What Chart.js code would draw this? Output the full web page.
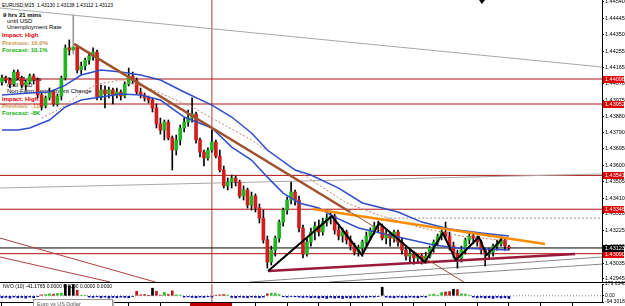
<!DOCTYPE html>
<html><head><meta charset="utf-8">
<script src="https://cdn.jsdelivr.net/npm/chart.js@4.4.1/dist/chart.umd.min.js"></script>
<style>
html,body{margin:0;padding:0;background:#fff;width:625px;height:306px;overflow:hidden;font-family:"Liberation Sans",Arial,sans-serif}
#main{position:absolute;left:0;top:0;width:625px;height:283px;z-index:2}
#sub{position:absolute;left:0;top:277px;width:625px;height:29px;z-index:3}
.t{position:absolute;font-size:6px;line-height:7px;white-space:nowrap;z-index:1}
.b{font-weight:bold}
.red{color:#e00000}.tan{color:#c8964e}.grn{color:#10b010}
#tri{position:absolute;left:479px;top:0;width:0;height:0;border-left:3px solid transparent;border-right:3px solid transparent;border-top:4px solid #000;z-index:5}
#tip{position:absolute;left:33px;top:299px;width:80px;height:9px;border:1px solid #999;background:#fff;z-index:6;font-size:5.5px;line-height:8px;color:#555;padding-left:3px;box-sizing:border-box;box-shadow:1px 1px 1px #bbb}
#tbox{position:absolute;left:190px;top:303px;width:42px;height:4px;background:#c00000;z-index:6}
</style></head><body>
<div class="t" style="left:2px;top:2px;font-size:5px">EURUSD,M15&nbsp; 1.43130 1.43138 1.43112 1.43123</div>
<div class="t b" style="left:3px;top:12px">9 hrs 21 mins</div>
<div class="t" style="left:7px;top:18px">until USD</div>
<div class="t" style="left:7px;top:24px">Unemployment Rate</div>
<div class="t b red" style="left:2px;top:32px">Impact: High</div>
<div class="t b tan" style="left:2px;top:40px">Previous: 10.0%</div>
<div class="t b grn" style="left:2px;top:47px">Forecast: 10.1%</div>
<div class="t b" style="left:3px;top:76px">9 hrs 21 mins</div>
<div class="t" style="left:7px;top:82px">until USD</div>
<div class="t" style="left:7px;top:88px">Non-Farm Employment Change</div>
<div class="t b red" style="left:2px;top:96px">Impact: High</div>
<div class="t b tan" style="left:2px;top:103px">Previous: -11K</div>
<div class="t b grn" style="left:2px;top:110px">Forecast: -8K</div>
<div class="t" style="left:3px;top:283px;font-size:5px;z-index:4">NVO (10) -41.1765 0.0000 0.0000 0.0000 0.0000</div>
<div id="tri"></div>
<div id="tip">Euro vs US Dollar</div>
<div id="tbox"></div>
<div id="main"><canvas id="c1" width="625" height="283"></canvas></div>
<div id="sub"><canvas id="c2" width="625" height="29"></canvas></div>
<script>
// ---- data (EURUSD M15) ----
const opens=[1.44079,1.44102,1.44090,1.44067,1.44136,1.44102,1.44061,1.44079,1.44113,1.44090,1.44004,1.43940,1.43987,1.44021,1.43952,1.43998,1.44102,1.44275,1.44263,1.44280,1.44148,1.44171,1.44205,1.44228,1.44251,1.43992,1.44033,1.44010,1.44033,1.44004,1.44021,1.43998,1.44067,1.44113,1.44090,1.44021,1.44004,1.43987,1.43975,1.43929,1.43837,1.43802,1.43848,1.43756,1.43687,1.43745,1.43814,1.43848,1.43871,1.43894,1.43745,1.43675,1.43641,1.43687,1.43733,1.43652,1.43572,1.43480,1.43503,1.43526,1.43503,1.43422,1.43457,1.43370,1.43422,1.43353,1.43295,1.43169,1.43042,1.43111,1.43180,1.43272,1.43341,1.43399,1.43445,1.43399,1.43238,1.43088,1.43157,1.43215,1.43249,1.43215,1.43272,1.43295,1.43307,1.43226,1.43192,1.43215,1.43169,1.43134,1.43099,1.43123,1.43157,1.43192,1.43226,1.43249,1.43249,1.43180,1.43203,1.43180,1.43215,1.43157,1.43111,1.43076,1.43088,1.43065,1.43076,1.43053,1.43076,1.43123,1.43157,1.43192,1.43215,1.43192,1.43134,1.43088,1.43065,1.43111,1.43169,1.43192,1.43180,1.43157,1.43111,1.43088,1.43099,1.43134,1.43146,1.43169,1.43130];
const highs=[1.44119,1.44113,1.44102,1.44148,1.44148,1.44113,1.44090,1.44125,1.44125,1.44102,1.44021,1.43998,1.44044,1.44033,1.44010,1.44113,1.44292,1.44321,1.44465,1.44292,1.44194,1.44217,1.44251,1.44275,1.44263,1.44061,1.44056,1.44050,1.44044,1.44044,1.44033,1.44079,1.44159,1.44136,1.44102,1.44044,1.44015,1.43998,1.43987,1.43952,1.43871,1.43860,1.43860,1.43768,1.43773,1.43831,1.43871,1.43917,1.43987,1.43906,1.43756,1.43687,1.43699,1.43802,1.43745,1.43687,1.43595,1.43526,1.43543,1.43537,1.43514,1.43480,1.43468,1.43445,1.43434,1.43376,1.43341,1.43192,1.43134,1.43192,1.43284,1.43353,1.43416,1.43503,1.43457,1.43422,1.43255,1.43180,1.43238,1.43272,1.43284,1.43295,1.43318,1.43330,1.43318,1.43249,1.43238,1.43226,1.43192,1.43151,1.43140,1.43169,1.43215,1.43238,1.43272,1.43278,1.43261,1.43226,1.43215,1.43226,1.43226,1.43180,1.43134,1.43111,1.43099,1.43088,1.43088,1.43099,1.43134,1.43169,1.43203,1.43226,1.43272,1.43215,1.43157,1.43111,1.43134,1.43180,1.43209,1.43203,1.43192,1.43169,1.43123,1.43123,1.43146,1.43169,1.43186,1.43180,1.43138];
const lows=[1.44061,1.44073,1.44044,1.44056,1.44090,1.44044,1.44033,1.44067,1.44067,1.43987,1.43917,1.43929,1.43975,1.43940,1.43940,1.43975,1.44090,1.44234,1.44240,1.44131,1.44125,1.44148,1.44182,1.44205,1.43975,1.43975,1.43929,1.43987,1.43952,1.43987,1.43975,1.43987,1.44056,1.44067,1.44010,1.43987,1.43969,1.43958,1.43906,1.43814,1.43779,1.43745,1.43745,1.43572,1.43658,1.43716,1.43791,1.43825,1.43848,1.43727,1.43647,1.43595,1.43629,1.43675,1.43641,1.43560,1.43468,1.43457,1.43468,1.43480,1.43411,1.43399,1.43353,1.43341,1.43330,1.43267,1.43151,1.43007,1.43025,1.43076,1.43157,1.43249,1.43318,1.43376,1.43370,1.43215,1.43065,1.43076,1.43134,1.43169,1.43192,1.43197,1.43249,1.43261,1.43203,1.43169,1.43157,1.43146,1.43111,1.43082,1.43076,1.43076,1.43134,1.43169,1.43203,1.43215,1.43169,1.43146,1.43134,1.43157,1.43134,1.43088,1.43053,1.43042,1.43030,1.43042,1.43030,1.43036,1.43065,1.43099,1.43134,1.43169,1.43169,1.43111,1.43065,1.43007,1.43042,1.43088,1.43146,1.43146,1.43134,1.43088,1.43019,1.43065,1.43076,1.43111,1.43134,1.43111,1.43112];
const closes=[1.44102,1.44090,1.44067,1.44136,1.44102,1.44061,1.44079,1.44113,1.44090,1.44004,1.43940,1.43987,1.44021,1.43952,1.43998,1.44102,1.44275,1.44263,1.44280,1.44148,1.44171,1.44205,1.44228,1.44251,1.43992,1.44033,1.44010,1.44033,1.44004,1.44021,1.43998,1.44067,1.44113,1.44090,1.44021,1.44004,1.43987,1.43975,1.43929,1.43837,1.43802,1.43848,1.43756,1.43687,1.43745,1.43814,1.43848,1.43871,1.43894,1.43745,1.43675,1.43641,1.43687,1.43733,1.43652,1.43572,1.43480,1.43503,1.43526,1.43503,1.43422,1.43457,1.43370,1.43422,1.43353,1.43295,1.43169,1.43042,1.43111,1.43180,1.43272,1.43341,1.43399,1.43445,1.43399,1.43238,1.43088,1.43157,1.43215,1.43249,1.43215,1.43272,1.43295,1.43307,1.43226,1.43192,1.43215,1.43169,1.43134,1.43099,1.43123,1.43157,1.43192,1.43226,1.43249,1.43251,1.43180,1.43203,1.43180,1.43215,1.43157,1.43111,1.43076,1.43088,1.43065,1.43076,1.43053,1.43076,1.43123,1.43157,1.43192,1.43215,1.43192,1.43134,1.43088,1.43065,1.43111,1.43169,1.43192,1.43180,1.43157,1.43111,1.43088,1.43099,1.43134,1.43146,1.43169,1.43134,1.43123];
// moving averages [barIndex, price]
const maUpper=[[0,1.44004],[7,1.44015],[12,1.44021],[16,1.44061],[20,1.44119],[25,1.44148],[30,1.44136],[35,1.44119],[40,1.44090],[46,1.44021],[53,1.43946],[58,1.43877],[63,1.43785],[67,1.43687],[74,1.43572],[78,1.43543],[85,1.43468],[91,1.43382],[100,1.43330],[106,1.43272],[113,1.43232],[121,1.43209],[128,1.43192]];
const maLower=[[0,1.43802],[4,1.43802],[7,1.43814],[12,1.43860],[16,1.43935],[20,1.43975],[25,1.43992],[30,1.44010],[35,1.44004],[40,1.43975],[46,1.43877],[53,1.43814],[58,1.43704],[63,1.43629],[67,1.43531],[71,1.43439],[75,1.43382],[80,1.43353],[84,1.43301],[90,1.43238],[100,1.43186],[109,1.43140],[115,1.43123],[128,1.43111]];
const maDotted=[[10,1.43871],[15,1.43929],[20,1.44015],[24,1.44067],[30,1.44090],[37,1.44044],[48,1.43935],[63,1.43745],[75,1.43560],[87,1.43382],[95,1.43313],[106,1.43238],[116,1.43192],[128,1.43163]];
// drawn objects [barIndex, price]
const brownTrend=[[18.2,1.44298],[87.9,1.43330]];
const brownRay=[[87.9,1.43330],[116.6,1.42927]];
const orangeTrend=[[78.5,1.43347],[137.1,1.43146]];
const zigzag=[[67.2,1.42990],[83.3,1.43307],[90.9,1.43082],[95.2,1.43267],[106.8,1.43042],[111.3,1.43209],[114.6,1.43053],[120.4,1.43186],[122.4,1.43082],[126.2,1.43174]];
const supportLine=[[67.2,1.42990],[144.7,1.43088]];
const grayTop=[[-0.5,1.44505],[151.5,1.44165]];
const grayMid=[[-0.5,1.43468],[151.5,1.43549]];
const grayLow1=[[62.6,1.42927],[151.5,1.43071]];
const grayLow2=[[82.8,1.42927],[151.5,1.43030]];
const redRay1=[[-0.5,1.43180],[38.7,1.42927]];
const redRay2=[[-0.5,1.43071],[27.3,1.42927]];
const dottedLevel=1.43295, dottedFrom=97;
const redLevels=[1.44096,1.43952,1.43541,1.43346,1.43090];
const bidLevel=1.43123;
const eventBar=53;
const priceTicks=[1.44540,1.44445,1.44350,1.44255,1.44165,1.44070,1.43975,1.43880,1.43790,1.43695,1.43600,1.43505,1.43410,1.43320,1.43225,1.43130,1.43035,1.42945];
const nvo=[-30,-25,-35,-20,-30,-25,-35,-20,-30,-10,15,20,30,25,35,40,179,150,170,85,10,8,-20,-25,-15,-30,-20,-35,-25,-30,-20,-25,-30,-10,70,15,20,5,115,70,10,50,20,75,15,10,-20,-15,-25,-30,-20,-25,-15,-20,10,15,20,10,-25,-30,-20,-25,-30,-20,-25,-30,-20,30,40,35,20,-15,-20,-10,-15,-20,-25,-20,-30,-25,-35,-30,-40,-25,-35,-30,-40,-30,-35,-25,-30,-20,-25,-15,-20,-10,130,-20,-25,-30,-20,-25,-30,-20,-25,-30,-15,-20,15,25,10,50,60,65,100,95,30,25,10,-20,-30,-25,-35,-30,-40,-25,-35,-30,-41.1765];
const nvoMax=179.6348, nvoMin=-94.3018;

// ---- layout constants ----
const SLOTS=152, X0=-0.5, X1=SLOTS-0.5;
const PMIN=1.42927, PMAX=1.44551;
const FONT='"Liberation Sans", Arial, sans-serif';
const UP='#22b422', DN='#d01e1e';

const pts=a=>a.map(([x,y])=>({x,y}));
const hline=(v,from)=>[{x:from===undefined?X0:from,y:v},{x:X1,y:v}];
const lineDs=(data,color,width,extra)=>Object.assign({type:'line',data,borderColor:color,borderWidth:width,pointRadius:0,tension:0,fill:false,order:1},extra||{});
const noPad=s=>{s.paddingLeft=0;s.paddingRight=0;s.paddingTop=0;s.paddingBottom=0;};

const idx=opens.map((_,i)=>i);
const datasets=[
  {type:'bar',data:idx.map(i=>({x:i,y:[lows[i],highs[i]]})),backgroundColor:idx.map(i=>i===18?'#9a9a9a':'#000'),barThickness:1,grouped:false,order:6},
  {type:'bar',data:idx.map(i=>({x:i,y:[opens[i],closes[i]]})),backgroundColor:idx.map(i=>closes[i]>=opens[i]?UP:DN),barThickness:3,minBarLength:1,grouped:false,order:5},
  lineDs(pts(grayTop),'#a8a8a8',1,{order:7}),
  lineDs(pts(grayMid),'#a8a8a8',1,{order:7}),
  lineDs(pts(grayLow1),'#8a8a8a',1,{order:7}),
  lineDs(pts(grayLow2),'#8a8a8a',1,{order:7}),
  lineDs(pts(redRay1),'#b04040',1,{order:7}),
  lineDs(pts(redRay2),'#b04040',1,{order:7}),
  lineDs(hline(dottedLevel,dottedFrom),'#909090',1,{borderDash:[2,2],order:7}),
  ...redLevels.map(v=>lineDs(hline(v),'#b01010',1,{order:7})),
  lineDs(hline(bidLevel),'#000',1,{order:7}),
  lineDs([{x:eventBar,y:PMIN},{x:eventBar,y:PMAX}],'#a04030',1,{order:7}),
  lineDs(pts(maUpper),'#2f4fc8',1.5,{order:3}),
  lineDs(pts(maLower),'#2f4fc8',1.5,{order:3}),
  lineDs(pts(maDotted),'#c08070',1,{borderDash:[2,2],order:3}),
  lineDs(pts(brownTrend),'#a0522d',2.5,{order:2}),
  lineDs(pts(brownRay),'#a0522d',1,{order:2}),
  lineDs(pts(orangeTrend),'#ff8c00',2.5,{order:2}),
  lineDs(pts(supportLine),'#9a1a3a',2.5,{order:2}),
  lineDs(pts(zigzag),'#000',2,{order:1})
];

const levelLabels=[...redLevels.map(v=>[v,'#e00000']),[bidLevel,'#000']];
const mainPlugin={id:'mainDeco',afterDraw(chart){
  const {ctx,chartArea:a,scales:{y}}=chart;
  ctx.save();
  ctx.strokeStyle='#000';ctx.lineWidth=1;
  ctx.beginPath();ctx.moveTo(0,a.bottom+0.5);ctx.lineTo(chart.width,a.bottom+0.5);ctx.stroke();
  ctx.font='5.5px '+FONT;ctx.textBaseline='middle';
  levelLabels.forEach(([v,bg])=>{const py=y.getPixelForValue(v);ctx.fillStyle=bg;ctx.fillRect(a.right+1,Math.round(py)-3,21,7);ctx.fillStyle='#fff';ctx.fillText(v.toFixed(5),a.right+3,Math.round(py)+0.5);});
  ctx.restore();
}};

new Chart(document.getElementById('c1'),{
  data:{datasets},
  options:{responsive:false,animation:false,devicePixelRatio:1,
    layout:{padding:{left:0,right:0,top:0,bottom:1}},
    plugins:{legend:{display:false},tooltip:{enabled:false}},
    scales:{
      x:{type:'linear',min:X0,max:X1,offset:false,display:false,ticks:{display:false},grid:{display:false,offset:false},afterFit:s=>{noPad(s);s.height=0;}},
      y:{type:'linear',position:'right',min:PMIN,max:PMAX,
        afterBuildTicks:s=>{s.ticks=priceTicks.map(v=>({value:v}));},
        afterFit:s=>{s.width=23;noPad(s);},
        ticks:{font:{size:5.5,family:FONT},color:'#000',padding:1,autoSkip:false,callback:v=>Number(v).toFixed(5)},
        grid:{drawOnChartArea:false,tickLength:2,color:'#000'},
        border:{color:'#000'}}
    }},
  plugins:[mainPlugin]
});

const nvoIdx=nvo.map((_,i)=>i);
const nvoColor=i=>nvo[i]<0?'#1010b0':(nvo[i]>=100?'#000':(closes[i]>=opens[i]?'#20c020':'#c01818'));
const timeTicks=[];for(let t=0;t<SLOTS;t+=8)timeTicks.push(t);
new Chart(document.getElementById('c2'),{
  data:{datasets:[
    {type:'bar',data:nvoIdx.map(i=>({x:i,y:nvo[i]})),backgroundColor:nvoIdx.map(nvoColor),barThickness:2,grouped:false,order:2},
    lineDs([{x:X0,y:0},{x:X1,y:0}],'#808080',1,{borderDash:[1,2],order:3}),
    lineDs([{x:eventBar,y:nvoMin},{x:eventBar,y:nvoMax}],'#a04030',1,{order:1})
  ]},
  options:{responsive:false,animation:false,devicePixelRatio:1,
    layout:{padding:{left:0,right:0,top:7,bottom:0}},
    plugins:{legend:{display:false},tooltip:{enabled:false}},
    scales:{
      x:{type:'linear',min:X0,max:X1,offset:false,
        afterBuildTicks:s=>{s.ticks=timeTicks.map(v=>({value:v}));},
        afterFit:s=>{noPad(s);},
        ticks:{display:false},grid:{drawOnChartArea:false,offset:false,tickLength:4,color:'#000'},border:{color:'#000'}},
      y:{type:'linear',position:'right',min:nvoMin,max:nvoMax,
        afterBuildTicks:s=>{s.ticks=[nvoMax,0,nvoMin].map(v=>({value:v}));},
        afterFit:s=>{s.width=23;noPad(s);},
        ticks:{font:{size:5,family:FONT},color:'#000',padding:1,autoSkip:false,callback:v=>v===0?'0.00':Number(v).toFixed(4)},
        grid:{drawOnChartArea:false,tickLength:2,color:'#000'},border:{color:'#000'}}
    }}
});
</script>
</body></html>
